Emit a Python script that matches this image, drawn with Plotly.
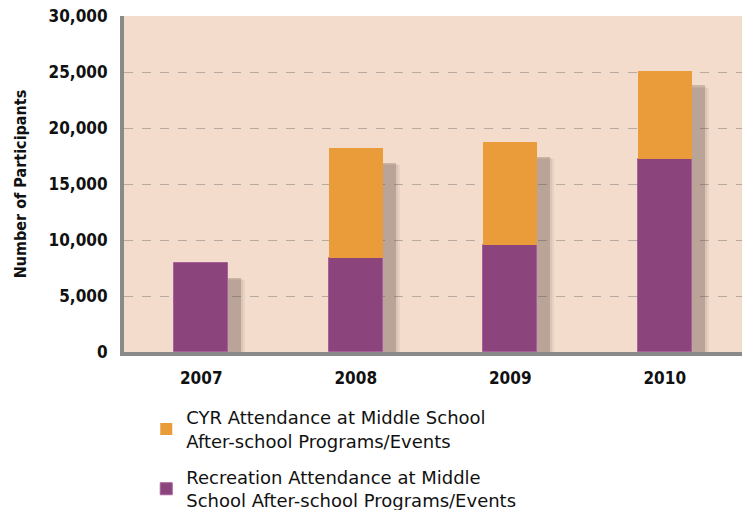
import plotly.graph_objects as go

years = ["2007", "2008", "2009", "2010"]
recreation = [7950, 8420, 9550, 17200]
cyr = [0, 9790, 9200, 7900]

name_cyr = "CYR Attendance at Middle School<br>After-school Programs/Events"
name_rec = "Recreation Attendance at Middle<br>School After-school Programs/Events"

totals = [r + c for r, c in zip(recreation, cyr)]

BAR_W = 0.35
fig = go.Figure()

# soft drop shadows behind bars (layered to fake a blur)
for off, drop, op in [(0.110, 1500, 0.07), (0.097, 1400, 0.08), (0.084, 1300, 0.26)]:
    fig.add_trace(go.Bar(
        x=years, y=[t - drop for t in totals], width=BAR_W,
        offset=-BAR_W / 2 + off,
        marker=dict(color=f"rgba(90,70,60,{op})", line=dict(width=0)),
        showlegend=False, hoverinfo="skip"))

fig.add_trace(go.Bar(
    x=years, y=recreation, name=name_rec, width=BAR_W, offset=-BAR_W / 2,
    legendgroup="rec", legendrank=2,
    marker=dict(color="#8B457C", line=dict(color="#A8609A", width=1))))
fig.add_trace(go.Bar(
    x=years, y=cyr, base=recreation, name=name_cyr, width=BAR_W, offset=-BAR_W / 2,
    legendgroup="cyr", legendrank=1,
    marker=dict(color="#EA9B3A", line=dict(width=0))))

bold_cond = "DejaVu Sans Condensed"
tickfont = dict(family=bold_cond, size=17, color="#111111", weight="bold")

fig.update_layout(
    width=742, height=510,
    margin=dict(l=124, r=0, t=16, b=158, autoexpand=False),
    paper_bgcolor="white",
    plot_bgcolor="#F3DCCB",
    barmode="overlay",
    bargap=0,
    showlegend=True,
    legend=dict(
        x=0.036, y=-0.14, xanchor="left", yanchor="top",
        traceorder="grouped",
        font=dict(family="DejaVu Sans", size=18, color="#111111"),
        tracegroupgap=10, itemwidth=30, bgcolor="rgba(0,0,0,0)"),
    xaxis=dict(
        type="category", range=[-0.5, 3.5], automargin=False,
        showline=True, linecolor="#8a8a8a", linewidth=4,
        tickfont=tickfont, showgrid=False, ticks="", ticklabelstandoff=8),
    yaxis=dict(
        range=[0, 30000], dtick=5000, tickformat=",", automargin=False,
        showline=True, linecolor="#8a8a8a", linewidth=4,
        gridcolor="#B5ABA3", griddash="dash", gridwidth=1.2,
        tickfont=tickfont, ticks="", ticklabelstandoff=9,
        zeroline=False,
        title=dict(text="Number of Participants",
                   font=dict(family=bold_cond, size=16, color="#111111", weight="bold"),
                   standoff=19)),
)

fig.write_html("out.html", config={"displayModeBar": False},
               post_script="document.body.style.margin='0';")
